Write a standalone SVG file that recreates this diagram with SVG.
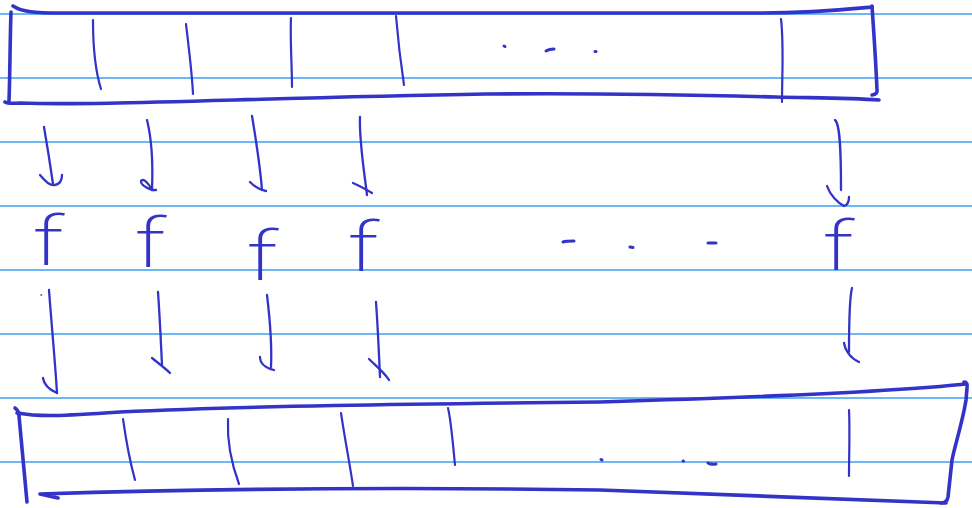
<svg xmlns="http://www.w3.org/2000/svg" width="972" height="508" viewBox="0 0 972 508">
  <style>
    .rule { stroke: #3d9ef5; stroke-width: 1.3; fill: none; }
    .box { stroke: #3333c8; stroke-width: 3.6; fill: none; stroke-linecap: round; stroke-linejoin: round; }
    .div { stroke: #3333c8; stroke-width: 2.2; fill: none; stroke-linecap: round; }
    .arrow { stroke: #3333c8; stroke-width: 2.3; fill: none; stroke-linecap: round; stroke-linejoin: round; }
    .dot { stroke: #3333c8; stroke-width: 3; fill: none; stroke-linecap: round; }
    .f { font-family: "Roboto", "Open Sans", "Liberation Sans", sans-serif; font-weight: 200; font-size: 68px; fill: #3333c8; text-anchor: middle; }
  </style>
  <rect x="0" y="0" width="972" height="508" fill="#ffffff"/>
  <g id="ruled-paper">
    <line class="rule" x1="0" y1="14" x2="972" y2="14"/>
    <line class="rule" x1="0" y1="78" x2="972" y2="78"/>
    <line class="rule" x1="0" y1="142" x2="972" y2="142"/>
    <line class="rule" x1="0" y1="206" x2="972" y2="206"/>
    <line class="rule" x1="0" y1="270" x2="972" y2="270"/>
    <line class="rule" x1="0" y1="334" x2="972" y2="334"/>
    <line class="rule" x1="0" y1="398" x2="972" y2="398"/>
    <line class="rule" x1="0" y1="462" x2="972" y2="462"/>
  </g>
  <g id="input-array">
    <path class="box" d="M11,12 C10,40 10,75 9,101"/>
    <path class="box" d="M13,6 C22,12 35,13 60,13 L760,13 C810,13 840,10 872,7"/>
    <path class="box" d="M872,6 C874,35 876,65 877,90 Q878,94 872,95"/>
    <path class="box" d="M5,102 Q8,104 20,103 C100,106 250,98 486,94 C600,93 700,95 776,97 C820,98 850,98 879,100"/>
    <path class="div" d="M93,20 C93,45 95,70 101,89"/>
    <path class="div" d="M186,24 C189,50 192,72 193,94"/>
    <path class="div" d="M291,18 C290,40 292,65 292,87"/>
    <path class="div" d="M396,16 C398,40 401,65 404,85"/>
    <path class="div" d="M781,19 C784,45 782,75 782,102"/>
    <path class="dot" d="M504,46 L505,46.5"/>
    <path class="dot" d="M546,51 Q549,49 554,49"/>
    <path class="dot" d="M595,51.5 L596,51.5"/>
  </g>
  <g id="f-1"><text class="f" transform="translate(48,265) scale(1.45,1)">f</text></g>
  <g id="f-2"><text class="f" transform="translate(150,267) scale(1.45,1)">f</text></g>
  <g id="f-3"><text class="f" transform="translate(262,280) scale(1.45,1)">f</text></g>
  <g id="f-4"><text class="f" transform="translate(363,271) scale(1.45,1)">f</text></g>
  <g id="f-5"><text class="f" transform="translate(838,270) scale(1.45,1)">f</text></g>
  <g id="f-ellipsis">
    <path class="dot" d="M563,242 Q566,241 574,241"/>
    <path class="dot" d="M630,247 L633,247.5"/>
    <path class="dot" d="M708,243 L716,243"/>
  </g>
  <g id="output-array">
    <path class="box" d="M15,408 Q19,411 19,416 L27,502"/>
    <path class="box" d="M17,413 C40,417 60,416 120,412 C250,406 400,404 600,402 C800,396 900,391 966,384"/>
    <path class="box" d="M964,382 Q968,382 967,388 L966,400 C963,420 955,445 952,460 L948,497 Q947,503 941,503"/>
    <path class="box" d="M58,498 L40,494 C200,489 400,487 600,490 C750,495 850,500 946,503"/>
    <path class="div" d="M123,419 C126,440 130,462 135,480"/>
    <path class="div" d="M228,419 C227,440 232,465 239,484"/>
    <path class="div" d="M341,413 C345,440 350,465 353,486"/>
    <path class="div" d="M448,408 C451,420 453,445 455,465"/>
    <path class="div" d="M849,410 C850,430 849,455 849,476"/>
    <path class="dot" d="M601,459.5 L602,460"/>
    <path class="dot" d="M683,461 L683.5,461"/>
    <path class="dot" d="M708,463 Q711,465 716,464"/>
  </g>
  <g id="connectors">
    <path class="arrow" d="M44,127 C48,150 51,170 53,184"/>
    <path class="arrow" d="M40,175 C46,182 50,186 55,185 C60,184 62,180 62,175"/>
    <path class="arrow" d="M147,120 C152,140 153,165 152,190"/>
    <path class="arrow" d="M156,190 L152,190 C147,188 140,185 141,181 C143,178 148,182 152,190"/>
    <path class="arrow" d="M252,116 C256,140 260,165 262,190"/>
    <path class="arrow" d="M250,182 C255,187 260,190 266,191"/>
    <path class="arrow" d="M360,117 C359,140 364,170 367,195"/>
    <path class="arrow" d="M353,183 C360,186 367,190 372,193"/>
    <path class="arrow" d="M835,120 C840,124 841,150 841,190"/>
    <path class="arrow" d="M827,186 C830,195 838,203 844,206 C848,205 849,200 849,197"/>
    <path class="arrow" d="M49,290 C52,330 55,360 57,393"/>
    <path class="arrow" d="M43,378 C44,385 50,390 57,393"/>
    <path class="dot" d="M41,295 L41.5,295" style="stroke-width:1.5"/>
    <path class="arrow" d="M158,292 C160,320 161,345 162,365"/>
    <path class="arrow" d="M152,358 C158,363 165,368 170,373"/>
    <path class="arrow" d="M267,295 C270,320 272,345 271,367"/>
    <path class="arrow" d="M260,357 C260,363 265,368 274,370"/>
    <path class="arrow" d="M376,302 C378,330 379,355 380,377"/>
    <path class="arrow" d="M369,359 C376,366 384,372 389,380"/>
    <path class="arrow" d="M852,288 C849,300 849,330 849,352"/>
    <path class="arrow" d="M844,343 C845,350 850,358 859,362"/>
  </g>
</svg>
